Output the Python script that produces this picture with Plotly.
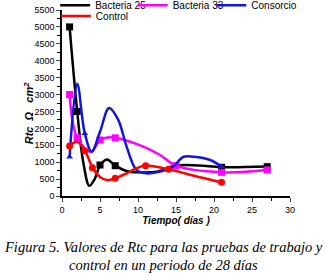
import plotly.graph_objects as go

# Curves
b25_x = [1, 2, 2.8, 3.6, 4.3, 5, 5.9, 7, 8.5, 10, 12.5, 15, 18, 21, 27]
b25_y = [5000, 2500, 1000, 300, 500, 900, 1080, 900, 740, 700, 720, 900, 900, 850, 870]
b25_mx = [1, 2, 5, 7, 21, 27]
b25_my = [5000, 2500, 917, 896, 849, 867]

b33_x = [1, 2, 3.8, 5, 6, 7, 10.7, 12.9, 15, 21, 27]
b33_y = [3000, 1720, 1310, 1650, 1730, 1720, 1460, 1212, 896, 700, 770]
b33_mx = [1, 2, 5, 7, 15, 21, 27]
b33_my = [3000, 1720, 1656, 1720, 896, 700, 770]

con_x = [1, 2, 3, 3.9, 5, 6.2, 7.4, 8.5, 9.8, 11.1, 12.9, 14.6, 16, 17.3, 19.5, 21]
con_y = [1150, 3320, 1850, 1310, 1900, 2600, 2250, 1460, 770, 670, 720, 870, 1160, 1160, 1065, 870]
con_mx = [1, 3, 21]
con_my = [1150, 1850, 870]

ctl_x = [1, 2, 3, 4, 5, 5.9, 7, 8.5, 9.8, 11, 14, 18, 21]
ctl_y = [1480, 1600, 1350, 850, 560, 470, 520, 670, 818, 900, 790, 560, 400]
ctl_mx = [1, 3, 4, 7, 11, 14, 21]
ctl_my = [1480, 1340, 838, 523, 896, 789, 405]

y_ticks = list(range(0, 5501, 500))
x_ticks = [0, 5, 10, 15, 20, 25, 30]

series = [
    ("Bacteria 25", b25_x, b25_y, b25_mx, b25_my, "#000000", "square", 7, "legend", -0.03, 1.025),
    ("Bacteria 33", b33_x, b33_y, b33_mx, b33_my, "#FF00FF", "square", 7, "legend2", 0.31, 1.025),
    ("Consorcio", con_x, con_y, con_mx, con_my, "#1414E0", "triangle-up", 6, "legend3", 0.655, 1.025),
    ("Control", ctl_x, ctl_y, ctl_mx, ctl_my, "#FF0000", "circle", 7, "legend4", -0.027, 0.968),
]

fig = go.Figure()
legends = {}
for name, x, y, mx, my, col, sym, ms, lg, lx, ly in series:
    fig.add_trace(go.Scatter(x=x, y=y, mode="lines", name=name,
                             line=dict(color=col, width=2.5, shape="spline", smoothing=1.0),
                             legendgroup=name, showlegend=True, legend=lg))
    fig.add_trace(go.Scatter(x=mx, y=my, mode="markers", name=name,
                             marker=dict(color=col, symbol=sym, size=ms),
                             legendgroup=name, showlegend=False, legend=lg))
    legends[lg] = dict(x=lx, xanchor="left", y=ly, yanchor="middle",
                       bgcolor="rgba(0,0,0,0)", itemwidth=30,
                       font=dict(size=10, family="Liberation Sans", color="black"))

tickfont = dict(family="Liberation Sans", size=9, color="black")
fig.update_layout(
    width=326, height=275,
    margin=dict(l=62, r=36, t=10, b=79, autoexpand=False),
    paper_bgcolor="white", plot_bgcolor="white",
    font=dict(family="Liberation Sans", color="black"),
    xaxis=dict(range=[0, 30], tickvals=x_ticks, ticks="outside", ticklen=4,
               showline=True, linecolor="black", linewidth=1.5, showgrid=False,
               zeroline=False, tickfont=tickfont, automargin=False,
               minor=dict(dtick=2.5, ticks="outside", ticklen=3, tickcolor="black"),
               title=dict(text="<b><i>Tiempo( días )</i></b>",
                          font=dict(size=10, family="Liberation Sans"), standoff=3)),
    yaxis=dict(range=[0, 5500], tickvals=y_ticks, ticks="outside", ticklen=4,
               showline=True, linecolor="black", linewidth=1.5, showgrid=False,
               zeroline=False, tickfont=tickfont, automargin=False,
               minor=dict(dtick=250, ticks="outside", ticklen=3, tickcolor="black")),
    **legends,
)

fig.add_annotation(text="<b><i>Rtc  Ω   cm<sup>2</sup></i></b>", textangle=-90,
                   xref="paper", yref="paper", x=-0.145, y=0.45,
                   xanchor="center", yanchor="middle", showarrow=False,
                   font=dict(family="Liberation Sans", size=11, color="black"))
fig.add_annotation(text="<i>Figura 5. Valores de Rtc para las pruebas de trabajo y</i>",
                   xref="paper", yref="paper", x=0.443, y=-0.274, yanchor="middle",
                   xanchor="center", showarrow=False,
                   font=dict(family="Liberation Serif", size=14.5, color="black"))
fig.add_annotation(text="<i>control en un periodo de 28 días</i>",
                   xref="paper", yref="paper", x=0.443, y=-0.371, yanchor="middle",
                   xanchor="center", showarrow=False,
                   font=dict(family="Liberation Serif", size=14.5, color="black"))

fig.write_html("out.html", config={"displayModeBar": False},
               post_script="document.body.style.margin='0';document.body.style.overflow='hidden';")
